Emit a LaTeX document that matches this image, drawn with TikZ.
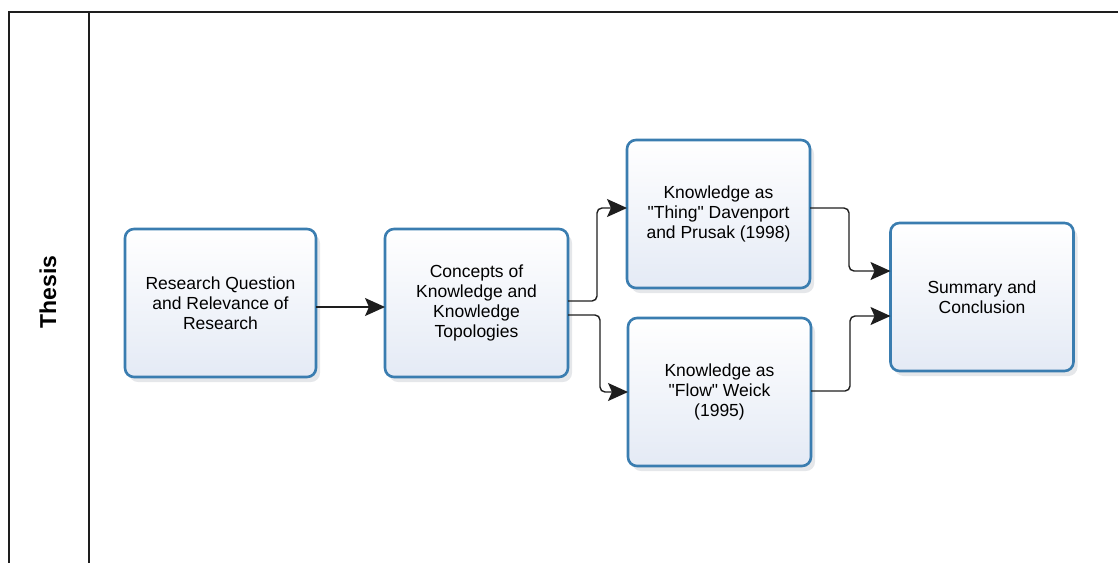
\documentclass[tikz,border=0pt]{standalone}
\usepackage{fontspec}
\setmainfont{Liberation Sans}
\usepackage{xcolor}
\usepackage{tikz}
\usetikzlibrary{
  arrows.meta,
  positioning,
  calc,
  shadows
}
\definecolor{thBorder}{HTML}{3A7DB0}
\definecolor{thFill}{HTML}{E4EAF5}
\definecolor{thLine}{HTML}{1E1E1E}
\definecolor{thShadow}{HTML}{B4B9C2}
\tikzset{
  stage/.style={
    draw=thBorder, line width=2.6pt, rounded corners=9pt, outer sep=0pt,
    top color=white, bottom color=thFill,
    minimum width=183pt, minimum height=148pt, align=center,
    font=\fontsize{17.5pt}{20pt}\selectfont,
    drop shadow={shadow xshift=4pt, shadow yshift=-5pt, fill=thShadow, opacity=0.35}
  },
  link/.style={line width=1.4pt, thLine, rounded corners=5pt, -{Stealth[length=20pt, width=18pt, inset=4pt]}},
  frameline/.style={line width=1.8pt, thLine},
  lanelabel/.style={font=\fontsize{23pt}{26pt}\selectfont\bfseries, rotate=90}
}

\begin{document}
\begin{tikzpicture}[x=1pt, y=-1pt, node distance=59pt]
  \useasboundingbox (0,0) rectangle (1118,563);
  % swimlane
  \draw[frameline] (1118,12) -- (9,12) -- (9,563);
  \draw[frameline] (89,12) -- (89,563);
  \node[lanelabel] (lane) at (48,292) {Thesis};
  % stages
  \node[stage, minimum width=191pt] (rq) at (220.5,303) {Research Question\\and Relevance of\\Research};
  \node[stage, right=69pt of rq] (cok) {Concepts of\\Knowledge and\\Knowledge\\Topologies};
  \node[stage, above right=-59pt and 59pt of cok] (thing) {Knowledge as\\\textquotedbl Thing\textquotedbl{} Davenport\\and Prusak (1998)};
  \node[stage, below right=-59pt and 60pt of cok] (flow) {Knowledge as\\\textquotedbl Flow\textquotedbl{} Weick\\(1995)};
  \node[stage, right=80pt of {$(thing.east)!0.5!(flow.east)$}, yshift=6pt] (sum) {Summary and\\Conclusion};
  % connectors
  \draw[link] ([yshift=-4pt]rq.east) -- ([yshift=-4pt]rq.east -| cok.west);
  \draw[link] ([yshift=2pt]cok.east) -- ++(29pt,0) |- ([yshift=6pt]thing.west);
  \draw[link] ([yshift=-12pt]cok.east) -- ++(32pt,0) |- (flow.west);
  \draw[link] ([yshift=6pt]thing.east) -- ++(39pt,0) |- ([yshift=26pt]sum.west);
  \draw[link] ([yshift=1pt]flow.east) -- ++(39pt,0) |- ([yshift=-19pt]sum.west);
\end{tikzpicture}
\end{document}
